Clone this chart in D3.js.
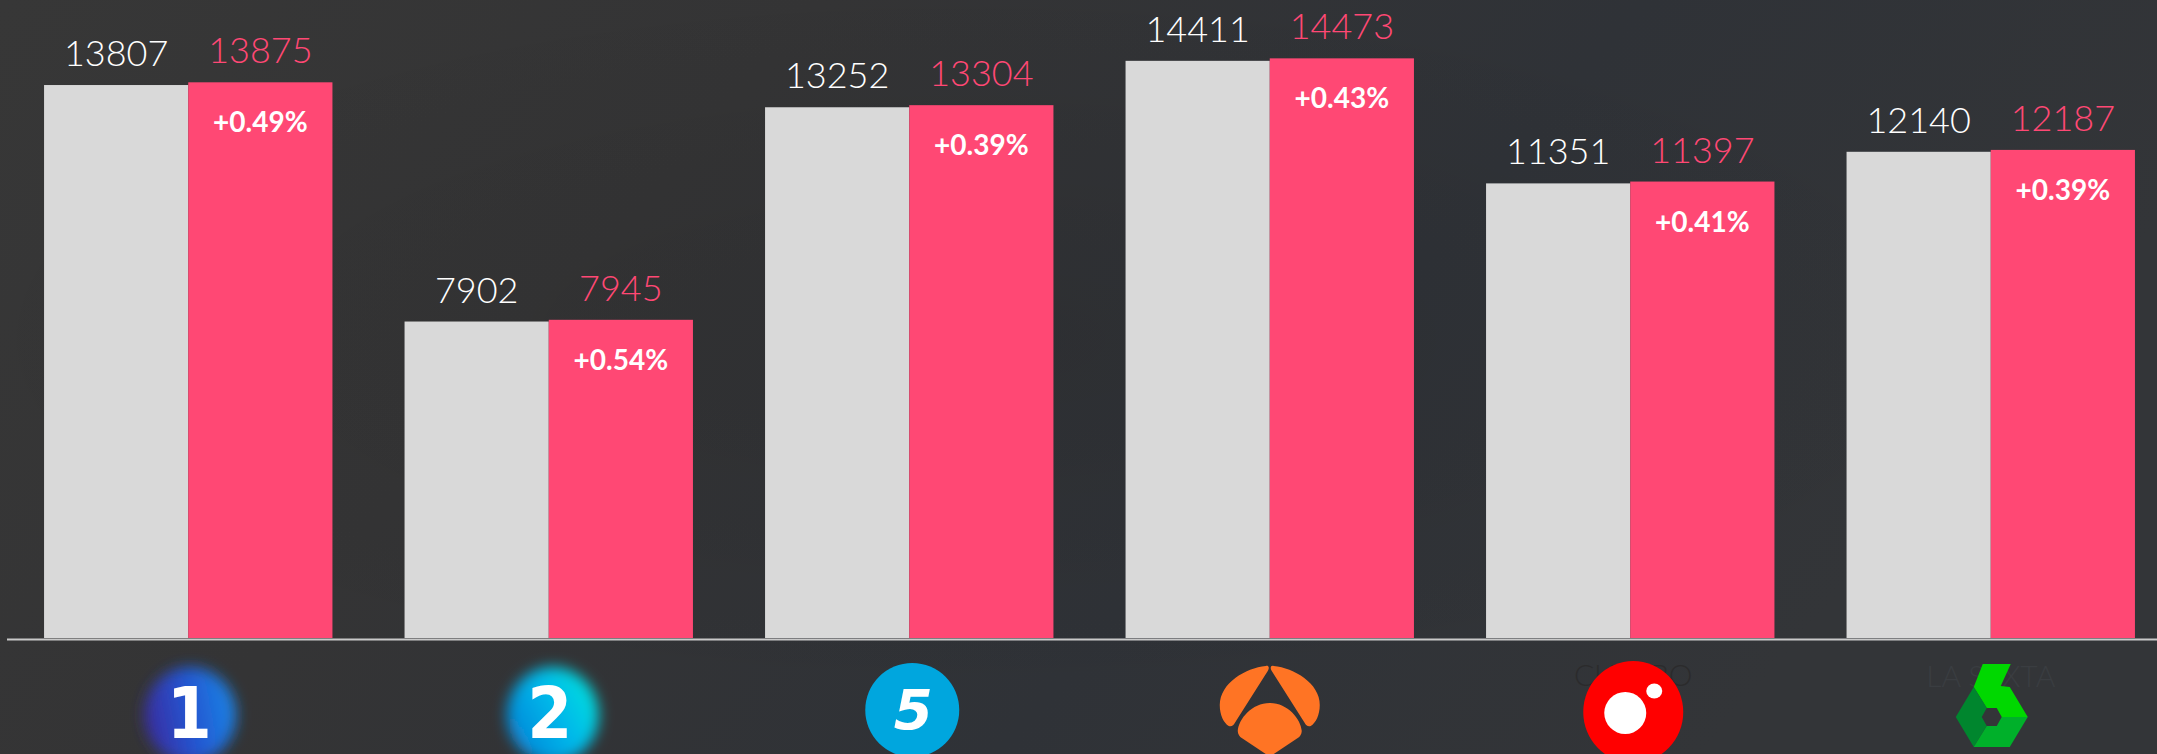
<!DOCTYPE html>
<html><head><meta charset="utf-8">
<script src="https://cdn.jsdelivr.net/npm/d3@7"></script>
<style>html,body{margin:0;padding:0;background:#323335;overflow:hidden}</style>
</head><body><svg id="chart" width="2157" height="754"></svg>
<script>
// ---- data ----
const categories = ["La 1", "La 2", "Telecinco", "Antena 3", "Cuatro", "laSexta"];
const previous = [13807, 7902, 13252, 14411, 11351, 12140];
const current = [13875, 7945, 13304, 14473, 11397, 12187];
const changeLabels = ["+0.49%", "+0.54%", "+0.39%", "+0.43%", "+0.41%", "+0.39%"];
const seriesKeys = ["previous", "current"];

// ---- setup ----
const W = 2157, H = 754;
const svg = d3.select("#chart");
const defs = svg.append("defs");

const bg = defs.append("linearGradient").attr("id", "bg").attr("x1", 0).attr("y1", 0).attr("x2", 1).attr("y2", 0.3);
bg.append("stop").attr("offset", "0%").attr("stop-color", "#373737");
bg.append("stop").attr("offset", "35%").attr("stop-color", "#343435");
bg.append("stop").attr("offset", "70%").attr("stop-color", "#2f3237");
bg.append("stop").attr("offset", "100%").attr("stop-color", "#333538");
svg.append("rect").attr("width", W).attr("height", H).attr("fill", "url(#bg)");
const shade = defs.append("radialGradient").attr("id", "shade").attr("cx", 0.45).attr("cy", 0.45).attr("r", 0.5);
shade.append("stop").attr("offset", "0%").attr("stop-color", "#000").attr("stop-opacity", 0.08);
shade.append("stop").attr("offset", "100%").attr("stop-color", "#000").attr("stop-opacity", 0);
svg.append("rect").attr("width", W).attr("height", H).attr("fill", "url(#shade)");

const blur = defs.append("filter").attr("id", "blur").attr("x", "-50%").attr("y", "-50%").attr("width", "200%").attr("height", "200%");
blur.append("feGaussianBlur").attr("stdDeviation", 7);

const g1 = defs.append("linearGradient").attr("id", "la1").attr("x1", 0).attr("y1", 0.6).attr("x2", 1).attr("y2", 0.4);
g1.append("stop").attr("offset", "0%").attr("stop-color", "#3a2a9e");
g1.append("stop").attr("offset", "50%").attr("stop-color", "#2455d0");
g1.append("stop").attr("offset", "100%").attr("stop-color", "#1a86e6");
const g2 = defs.append("linearGradient").attr("id", "la2").attr("x1", 0).attr("y1", 0.8).attr("x2", 1).attr("y2", 0.2);
g2.append("stop").attr("offset", "0%").attr("stop-color", "#0a7fd6");
g2.append("stop").attr("offset", "55%").attr("stop-color", "#00b8ea");
g2.append("stop").attr("offset", "100%").attr("stop-color", "#00e4dc");

// ---- scales ----
const x0 = d3.scaleBand().domain(categories).range([8, 2171]).paddingInner(0.2).paddingOuter(0.1);
const x1 = d3.scaleBand().domain(seriesKeys).range([0, x0.bandwidth()]);
const y = d3.scaleLinear().domain([0, 15930]).range([638, 0]);

const rows = categories.map((c, i) => ({ cat: c, previous: previous[i], current: current[i], change: changeLabels[i] }));
const colors = { previous: "#d9d9d9", current: "#ff4874" };
const textColors = { previous: "#ffffff", current: "#ff4874" };

const groups = svg.append("g").selectAll("g").data(rows).join("g")
  .attr("transform", d => `translate(${x0(d.cat)},0)`);

groups.selectAll("rect").data(d => seriesKeys.map(k => ({ key: k, value: d[k] }))).join("rect")
  .attr("x", d => x1(d.key)).attr("width", x1.bandwidth())
  .attr("y", d => y(d.value)).attr("height", d => y(0) - y(d.value))
  .attr("fill", d => colors[d.key]);

groups.selectAll("text.val").data(d => seriesKeys.map(k => ({ key: k, value: d[k] }))).join("text")
  .attr("class", "val")
  .attr("x", d => x1(d.key) + x1.bandwidth() / 2)
  .attr("y", d => y(d.value) - 19)
  .attr("text-anchor", "middle")
  .attr("font-family", "Lato, 'Open Sans', sans-serif")
  .attr("font-weight", 300)
  .attr("font-size", 36)
  .attr("fill", d => textColors[d.key])
  .text(d => d.value);

groups.append("text")
  .attr("x", x1("current") + x1.bandwidth() / 2)
  .attr("y", d => y(d.current) + 50)
  .attr("text-anchor", "middle")
  .attr("font-family", "Lato, 'Open Sans', sans-serif")
  .attr("font-weight", 700)
  .attr("font-size", 28)
  .attr("fill", "#ffffff")
  .text(d => d.change);

// baseline axis
svg.append("line").attr("x1", 7).attr("x2", W).attr("y1", 639.5).attr("y2", 639.5)
  .attr("stroke", "#c9c9c9").attr("stroke-width", 2);

// ---- logos (category axis) ----
const logoY = 711;
const logos = svg.append("g").selectAll("g").data(categories).join("g")
  .attr("transform", d => `translate(${x0(d) + x0.bandwidth() / 2},${logoY})`);

logos.each(function (name) {
  const g = d3.select(this);
  if (name === "La 1" || name === "La 2") {
    g.append("ellipse").attr("cx", name === "La 1" ? 2 : 4).attr("cy", 4).attr("rx", 46).attr("ry", 48)
      .attr("fill", name === "La 1" ? "url(#la1)" : "url(#la2)").attr("filter", "url(#blur)");
    g.append("text").attr("x", 1).attr("y", 27).attr("text-anchor", "middle")
      .attr("font-family", "'Liberation Sans Narrow', 'DejaVu Sans Condensed', sans-serif")
      .attr("font-weight", 700).attr("font-size", 72).attr("fill", "#ffffff")
      .text(name === "La 1" ? "1" : "2");
  } else if (name === "Telecinco") {
    g.append("circle").attr("cx", 3).attr("cy", -1).attr("r", 47).attr("fill", "#00a6de");
    g.append("text").attr("x", 4).attr("y", 18).attr("text-anchor", "middle")
      .attr("font-family", "'DejaVu Sans', sans-serif").attr("font-weight", 700)
      .attr("font-style", "italic").attr("font-size", 56).attr("fill", "#ffffff").text("5");
  } else if (name === "Antena 3") {
    const o = "#ff7424";
    g.append("path").attr("fill", o).attr("transform", "translate(0,-46)")
      .attr("d", "M-4,1 C-24,3 -50,18 -50,40 C-50,50 -46,58 -41,61 C-38,62 -36,60 -35,58 L-2,6 C0,3 -1,0 -4,1 Z");
    g.append("path").attr("fill", o).attr("transform", "translate(0,-46) scale(-1,1)")
      .attr("d", "M-4,1 C-24,3 -50,18 -50,40 C-50,50 -46,58 -41,61 C-38,62 -36,60 -35,58 L-2,6 C0,3 -1,0 -4,1 Z");
    g.append("path").attr("fill", o).attr("transform", "translate(0,-46)")
      .attr("d", "M0,38 C18,38 31,54 32,66 C32,69 30,72 28,73 L4,89 C2,91 -2,91 -4,89 L-28,73 C-30,72 -32,69 -32,66 C-31,54 -18,38 0,38 Z");
  } else if (name === "Cuatro") {
    g.append("text").attr("x", 3).attr("y", -25).attr("text-anchor", "middle")
      .attr("font-family", "Lato, sans-serif").attr("font-weight", 300).attr("font-size", 30).attr("fill", "#2b2b2c").text("CUATRO");
    g.append("ellipse").attr("cx", 3).attr("cy", 1).attr("rx", 50).attr("ry", 51).attr("fill", "#ff0000");
    g.append("ellipse").attr("cx", -5).attr("cy", 2).attr("rx", 21).attr("ry", 21).attr("fill", "#ffffff");
    g.append("ellipse").attr("cx", 24).attr("cy", -20).attr("rx", 8).attr("ry", 7.5).attr("fill", "#ffffff");
  } else if (name === "laSexta") {
    g.append("text").attr("x", 0).attr("y", -24).attr("text-anchor", "middle")
      .attr("font-family", "Lato, sans-serif").attr("font-weight", 300).attr("font-size", 30).attr("fill", "#3a3d41").text("LA SEXTA");
    const s = g.append("g").attr("transform", "translate(1,6)");
    const poly = pts => "M" + pts.map(p => p.join(",")).join("L") + "Z";
    s.append("path").attr("fill", "#00d800")
      .attr("d", poly([[-18, -30], [-9, -53], [19, -53], [9, -31], [18, -30], [36, 0], [10, 0], [5, -9], [-5, -9]]));
    s.append("path").attr("fill", "#00862e")
      .attr("d", poly([[-36, 0], [-18, -30], [-5, -9], [-10, 0], [-5, 9], [-18, 30]]));
    s.append("path").attr("fill", "#00b02a")
      .attr("d", poly([[-18, 30], [18, 30], [36, 0], [10, 0], [5, 9], [-5, 9]]));
  }
});
</script>
</body></html>
